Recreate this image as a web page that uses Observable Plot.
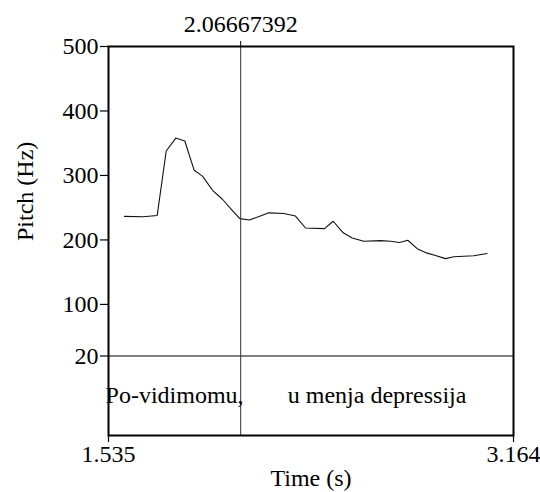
<!DOCTYPE html>
<html>
<head>
<meta charset="utf-8">
<script src="https://cdn.jsdelivr.net/npm/d3@7"></script>
<script src="https://cdn.jsdelivr.net/npm/@observablehq/plot@0.6"></script>
<style>
  html, body { margin: 0; padding: 0; background: white; }
</style>
</head>
<body>
<div id="chart"></div>
<script>
// Pitch contour (time in s, pitch in Hz)
const times = [1.5994, 1.6746, 1.7309, 1.7671, 1.8057, 1.8419, 1.8797, 1.9131, 1.9533, 1.9923,
  2.0325, 2.0631, 2.1009, 2.1383, 2.1797, 2.2401, 2.2871, 2.3274, 2.4038, 2.4388,
  2.4790, 2.5152, 2.5618, 2.6290, 2.6692, 2.7054, 2.7388, 2.7766, 2.8168, 2.8502,
  2.8904, 2.9238, 3.0042, 3.0581];
const pitch = [236.5, 236, 238, 338, 358, 353.5, 308, 299, 277, 263.5,
  246, 233, 231, 236, 242, 241, 237, 218.5, 217.5, 229,
  211, 203, 198, 199, 198, 196, 199.5, 186.5, 179.5, 176,
  171, 174, 175.5, 179];

// Axes
const timeRange = [1.535, 3.164];
const pitchTicks = [500, 400, 300, 200, 100, 20];
const pitchFloor = 20;
const pitchTop = 500;
const tierBottom = -103.3;   // lower edge of the text tier, in pitch-axis units
const cursorTime = [2.06667392];

// Text tier
const tierStarts = [1.535, 2.06667392];
const tierEnds = [2.06667392, 3.164];
const tierLabels = ["Po-vidimomu,", "u menja depressija"];

const contour = times.map((t, i) => ({t, f: pitch[i]}));
const tier = tierLabels.map((label, i) => ({
  label,
  mid: (tierStarts[i] + tierEnds[i]) / 2,
  y: (pitchFloor + tierBottom) / 2
}));

const FONT = "Liberation Serif, Times New Roman, serif";
const FS = 24;

const chart = Plot.plot({
  width: 540,
  height: 492,
  marginLeft: 108,
  marginRight: 27,
  marginTop: 46,
  marginBottom: 57,
  style: {fontFamily: FONT, fontSize: FS + "px", background: "white", color: "black"},
  x: {domain: timeRange},
  y: {domain: [tierBottom, pitchTop]},
  marks: [
    Plot.line(contour, {x: "t", y: "f", stroke: "#111", strokeWidth: 1.1}),
    Plot.ruleY([pitchFloor], {stroke: "black", strokeWidth: 1}),
    Plot.ruleX(cursorTime, {stroke: "#333", strokeWidth: 1}),
    Plot.frame({stroke: "black", strokeWidth: 2}),
    Plot.axisY({ticks: pitchTicks, tickSize: 8, tickPadding: 2, label: null,
      tickFormat: d => String(d), fontSize: FS, fontFamily: FONT, strokeWidth: 1.2}),
    Plot.axisX({anchor: "bottom", ticks: timeRange, tickSize: 7, tickPadding: 2, label: null,
      tickFormat: d => d.toFixed(3), fontSize: FS, fontFamily: FONT, strokeWidth: 1.2}),
    Plot.axisX({anchor: "top", ticks: cursorTime, tickSize: 6, tickPadding: 9, label: null,
      tickFormat: d => String(d), fontSize: FS, fontFamily: FONT}),
    Plot.text(tier, {x: "mid", y: "y", text: "label", fontSize: FS, fontFamily: FONT}),
    Plot.text(["Pitch (Hz)"], {frameAnchor: "left", dx: -83, rotate: -90, fontSize: FS, fontFamily: FONT}),
    Plot.text(["Time (s)"], {frameAnchor: "bottom", dy: 50, fontSize: FS, fontFamily: FONT})
  ]
});
document.getElementById("chart").appendChild(chart);
</script>
</body>
</html>
